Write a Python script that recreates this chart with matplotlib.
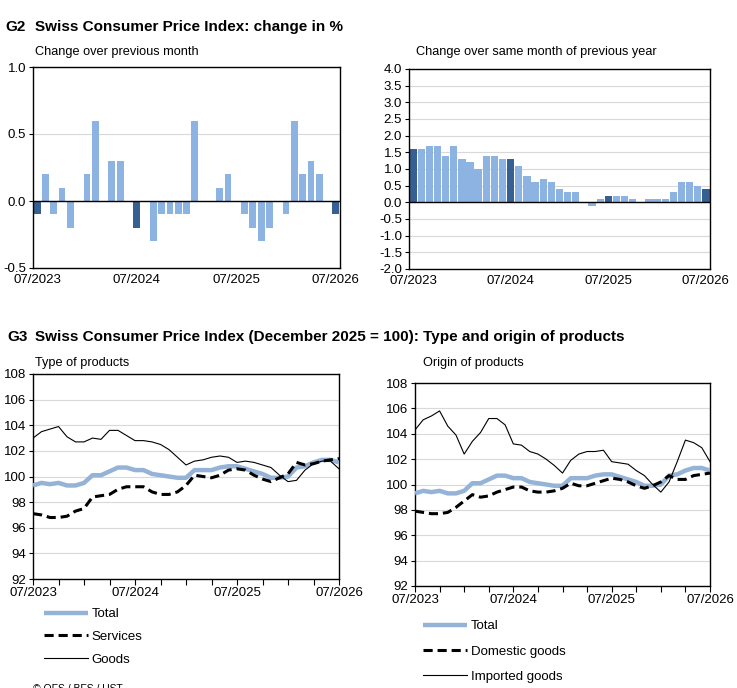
import matplotlib

matplotlib.use("Agg")
import matplotlib.pyplot as plt
from matplotlib.lines import Line2D

plt.rcParams["font.family"] = ["Liberation Sans", "DejaVu Sans"]

W, H = 737, 688

# months from 07/2023 to 07/2026 (37 values)
mom_change = [
    -0.1, 0.2, -0.1, 0.1, -0.2, 0.0, 0.2, 0.6, 0.0, 0.3, 0.3, 0.0,
    -0.2, 0.0, -0.3, -0.1, -0.1, -0.1, -0.1, 0.6, 0.0, 0.0, 0.1, 0.2,
    0.0, -0.1, -0.2, -0.3, -0.2, 0.0, -0.1, 0.6, 0.2, 0.3, 0.2, 0.0,
    -0.1,
]
yoy_change = [
    1.6, 1.6, 1.7, 1.7, 1.4, 1.7, 1.3, 1.2, 1.0, 1.4, 1.4, 1.3,
    1.3, 1.1, 0.8, 0.6, 0.7, 0.6, 0.4, 0.3, 0.3, 0.0, -0.1, 0.1,
    0.2, 0.2, 0.2, 0.1, 0.0, 0.1, 0.1, 0.1, 0.3, 0.6, 0.6, 0.5,
    0.4,
]
total = [
    99.3, 99.5, 99.4, 99.5, 99.3, 99.3, 99.5, 100.1, 100.1, 100.4, 100.7, 100.7,
    100.5, 100.5, 100.2, 100.1, 100.0, 99.9, 99.9, 100.5, 100.5, 100.5, 100.7, 100.8,
    100.8, 100.6, 100.4, 100.2, 99.9, 99.9, 100.0, 100.7, 100.8, 101.1, 101.3, 101.3,
    101.1,
]
services = [
    97.1, 97.0, 96.8, 96.8, 96.9, 97.3, 97.5, 98.4, 98.5, 98.6, 99.0, 99.2,
    99.2, 99.2, 98.8, 98.6, 98.6, 98.8, 99.3, 100.1, 100.0, 99.9, 100.1, 100.5,
    100.6, 100.5, 100.1, 99.8, 99.6, 99.9, 100.2, 101.1, 100.9, 101.0, 101.2, 101.3,
    101.4,
]
goods = [
    103.0, 103.5, 103.7, 103.9, 103.1, 102.7, 102.7, 103.0, 102.9, 103.6, 103.6, 103.2,
    102.8, 102.8, 102.7, 102.5, 102.1, 101.5, 100.9, 101.2, 101.3, 101.5, 101.6, 101.5,
    101.1, 101.2, 101.1, 100.9, 100.7, 100.1, 99.6, 99.7, 100.5, 101.0, 101.2, 101.2,
    100.6,
]
domestic = [
    97.9, 97.8, 97.7, 97.7, 97.8, 98.2, 98.7, 99.2, 99.0, 99.1, 99.4, 99.6,
    99.8, 99.8, 99.5, 99.4, 99.4, 99.5, 99.7, 100.1, 99.9, 99.9, 100.1, 100.3,
    100.5, 100.4, 100.2, 99.9, 99.7, 99.9, 100.2, 100.7, 100.4, 100.4, 100.7, 100.8,
    100.9,
]
imported = [
    104.3, 105.1, 105.4, 105.8, 104.6, 103.9, 102.4, 103.4, 104.1, 105.2, 105.2, 104.7,
    103.2, 103.1, 102.6, 102.4, 102.0, 101.5, 100.9, 101.9, 102.4, 102.6, 102.6, 102.7,
    101.8, 101.7, 101.6, 101.1, 100.7, 100.0, 99.4, 100.2, 101.8, 103.5, 103.3, 102.9,
    101.8,
]
year_labels = ["07/2023", "07/2024", "07/2025", "07/2026"]

LIGHT = "#8db3e2"
DARK = "#366092"
TOTAL_BLUE = "#95b3d7"
GRID = "#d9d9d9"


def px_axes(fig, left, top, right, bottom):
    return fig.add_axes([left / W, 1 - bottom / H, (right - left) / W, (bottom - top) / H])


def style_frame(ax):
    for sp in ax.spines.values():
        sp.set_color("black")
        sp.set_linewidth(1.0)
    ax.tick_params(labelsize=9.5, length=3, width=0.8, colors="black")
    ax.grid(axis="y", color=GRID, linewidth=0.8)
    ax.set_axisbelow(True)


def bar_panel(ax, values, ymin, ymax, step, width):
    x = list(range(len(values)))
    colors = [DARK if i % 12 == 0 else LIGHT for i in x]
    ax.bar(x, values, width=width, color=colors, linewidth=0, zorder=2)
    ax.axhline(0, color="black", linewidth=1.0, zorder=3)
    ax.set_xlim(-0.5, len(values) - 0.5)
    ax.set_ylim(ymin, ymax)
    n = int(round((ymax - ymin) / step))
    ticks = [ymin + i * step for i in range(n + 1)]
    ax.set_yticks(ticks)
    ax.set_yticklabels([f"{t:.1f}" for t in ticks])
    ax.set_xticks([0, 12, 24, 36])
    ax.set_xticklabels(year_labels)
    style_frame(ax)
    ax.tick_params(axis="y", pad=2)
    ax.tick_params(axis="x", length=0, pad=4)


def line_panel(ax, series):
    x = list(range(len(series[0][0])))
    for vals, kw in series:
        ax.plot(x, vals, **kw)
    ax.set_xlim(0, 36)
    ax.set_ylim(92, 108)
    ax.set_yticks(range(92, 109, 2))
    ticks = list(range(0, 37, 3))
    ax.set_xticks(ticks)
    ax.set_xticklabels([year_labels[t // 12] if t % 12 == 0 else "" for t in ticks])
    style_frame(ax)
    ax.tick_params(axis="y", pad=2)
    ax.tick_params(axis="x", length=4, pad=2)


fig = plt.figure(figsize=(W / 100, H / 100), dpi=100)

# G2
fig.text(5 / W, 1 - 27 / H, "G2", fontsize=11, fontweight="bold", va="center")
fig.text(35 / W, 1 - 27 / H, "Swiss Consumer Price Index: change in %",
         fontsize=11, fontweight="bold", va="center")
fig.text(35 / W, 1 - 52 / H, "Change over previous month", fontsize=9.2, va="center")
fig.text(416 / W, 1 - 52 / H, "Change over same month of previous year", fontsize=9.2, va="center")

ax1 = px_axes(fig, 33, 67, 340, 268)
bar_panel(ax1, mom_change, -0.5, 1.0, 0.5, 0.82)

ax2 = px_axes(fig, 409, 69, 710, 269)
bar_panel(ax2, yoy_change, -2.0, 4.0, 0.5, 0.9)

# G3
fig.text(7 / W, 1 - 337 / H, "G3", fontsize=11, fontweight="bold", va="center")
fig.text(35 / W, 1 - 337 / H,
         "Swiss Consumer Price Index (December 2025 = 100): Type and origin of products",
         fontsize=11, fontweight="bold", va="center")
fig.text(35 / W, 1 - 363 / H, "Type of products", fontsize=9.2, va="center")
fig.text(423 / W, 1 - 363 / H, "Origin of products", fontsize=9.2, va="center")

total_kw = dict(color=TOTAL_BLUE, linewidth=3.2, solid_capstyle="butt", zorder=3)
dash_kw = dict(color="black", linewidth=2.2, linestyle=(0, (3, 1.6)), zorder=4)
thin_kw = dict(color="black", linewidth=0.8, zorder=5)

ax3 = px_axes(fig, 33, 374, 339, 579)
line_panel(ax3, [(total, total_kw), (services, dash_kw), (goods, thin_kw)])

ax4 = px_axes(fig, 415, 383, 710, 586)
line_panel(ax4, [(total, total_kw), (domestic, dash_kw), (imported, thin_kw)])


def legend_handles():
    return [
        Line2D([], [], **total_kw),
        Line2D([], [], **dash_kw),
        Line2D([], [], **thin_kw),
    ]


fig.legend(legend_handles(), ["Total", "Services", "Goods"],
           loc="upper left", bbox_to_anchor=(44 / W, 1 - 608 / H),
           frameon=False, fontsize=9.5, handlelength=3.3, handletextpad=0.3,
           labelspacing=0.8, borderpad=0, borderaxespad=0)
fig.legend(legend_handles(), ["Total", "Domestic goods", "Imported goods"],
           loc="upper left", bbox_to_anchor=(423 / W, 1 - 620 / H),
           frameon=False, fontsize=9.5, handlelength=3.3, handletextpad=0.3,
           labelspacing=1.0, borderpad=0, borderaxespad=0)

fig.text(33 / W, 1 - 689 / H, "© OFS / BFS / UST", fontsize=7.5, va="center")

fig.savefig("out.png", dpi=100)
